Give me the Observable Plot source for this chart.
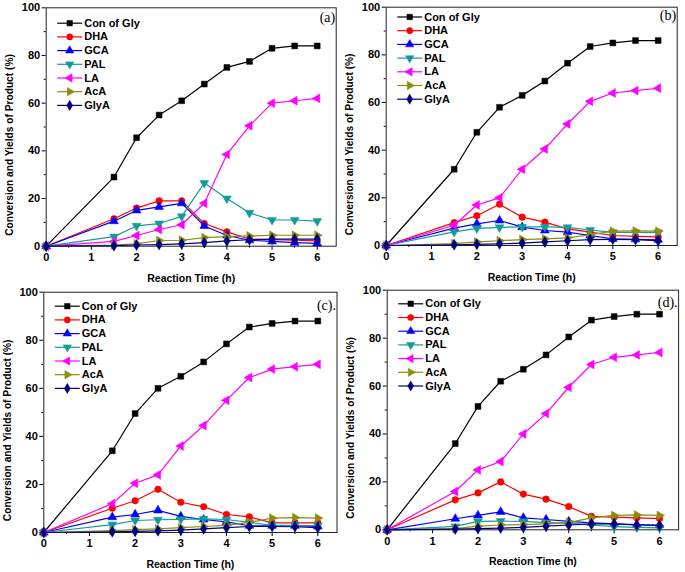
<!DOCTYPE html>
<html><head><meta charset="utf-8">
<script src="https://cdn.jsdelivr.net/npm/d3@7"></script>
<script src="https://cdn.jsdelivr.net/npm/@observablehq/plot@0.6"></script>
<style>
body{margin:0;background:#fff;}
#wrap{position:relative;width:685px;height:572px;overflow:hidden;background:#fff;}
.panel{position:absolute;}
</style></head><body><div id="wrap"></div>
<script>
// ---- data ----
const time = [0, 1.5, 2, 2.5, 3, 3.5, 4, 4.5, 5, 5.5, 6];
const seriesNames = ["Con of Gly", "DHA", "GCA", "PAL", "LA", "AcA", "GlyA"];
const seriesColors = ["#000000", "#ff0000", "#0000ff", "#159a9a", "#ff00ff", "#8c8c10", "#000080"];
const panelLabels = ["(a)", "(b)", "(c).", "(d)."];
const xTicks = [0, 1, 2, 3, 4, 5, 6];
const xMinor = [0.5, 1.5, 2.5, 3.5, 4.5, 5.5];
const yTicks = [0, 20, 40, 60, 80, 100];
const yMinor = [10, 30, 50, 70, 90];
const xLabel = "Reaction Time (h)";
const yLabel = "Conversion and Yields of Product (%)";

// panel (a)
const conA  = [0, 29, 45.5, 55, 61, 68, 75, 77.5, 83, 84, 84];
const dhaA  = [0, 11.5, 16, 19, 19, 9.5, 6, 3, 2.7, 2.5, 2.2];
const gcaA  = [0, 10.5, 15, 16.5, 18, 8.5, 4.5, 2.5, 2, 1.5, 1.2];
const palA  = [0, 4, 8.5, 9.5, 12.5, 26.5, 20, 14, 11, 11, 10.5];
const laA   = [0, 2, 4.5, 7, 9, 18, 38.5, 50.5, 60, 61, 62];
const acaA  = [0, 0.5, 1, 2.4, 2.5, 3.6, 4, 4.3, 4.6, 4.6, 4.6];
const glyaA = [0, 0.2, 0.5, 0.7, 1, 1.5, 2.2, 2.7, 3, 3, 3];
// panel (b)
const conB  = [0, 32, 47.5, 58, 63, 69, 76.5, 83.5, 85, 86, 86];
const dhaB  = [0, 9.6, 12.5, 17.3, 11.9, 9.8, 7, 5.6, 4.2, 3.8, 3.6];
const gcaB  = [0, 7.3, 9.1, 10.5, 7.7, 6.3, 5.6, 4.2, 2.8, 2.6, 2.4];
const palB  = [0, 5.7, 7.2, 7.6, 7.8, 7.8, 7.6, 6.5, 5.5, 5.5, 5.5];
const laB   = [0, 8.5, 17, 20, 32, 40.5, 51, 60.5, 64, 65, 66];
const acaB  = [0, 0.8, 1.5, 2, 2.5, 2.8, 3.2, 4.5, 6, 6.1, 6];
const glyaB = [0, 0.3, 0.5, 0.7, 1, 1.5, 2, 2.5, 2.6, 2.5, 2];
// panel (c)
const conC  = [0, 34, 49.5, 60, 65, 71, 78.5, 85.5, 87, 88, 88];
const dhaC  = [0, 10.1, 13.2, 18, 12.6, 10.7, 7.5, 6.5, 4, 4, 4];
const gcaC  = [0, 6.4, 7.5, 9.2, 6.7, 5.4, 4.4, 2.8, 2.8, 2.8, 2.5];
const palC  = [0, 3.3, 5, 5.3, 5.5, 5.7, 5.4, 4.2, 3, 3, 2.8];
const laC   = [0, 12, 20.5, 24, 36, 44.5, 55, 64.5, 68, 69, 70];
const acaC  = [0, 0.8, 1.2, 1.5, 2, 2.5, 3, 4.2, 6, 6.2, 6];
const glyaC = [0, 0.3, 0.5, 0.7, 1, 1.5, 2, 2.5, 2.5, 2.4, 2];
// panel (d)
const conD  = [0, 36, 51.5, 62, 67, 73, 80.5, 87.5, 89, 90, 90];
const dhaD  = [0, 12.5, 15.4, 20, 14.9, 12.8, 9.7, 5.6, 5.3, 5, 4.7];
const gcaD  = [0, 4.6, 6, 7.5, 5, 4.3, 3.5, 2.9, 2.5, 2.2, 2];
const palD  = [0, 1.4, 3.5, 3.6, 3.5, 3, 2.8, 2, 1.3, 1, 0.8];
const laD   = [0, 16, 25, 28.5, 40, 48.5, 59.5, 69, 72, 73, 74];
const acaD  = [0, 0.5, 1.5, 2, 2.2, 2.5, 3, 5, 6, 6.2, 6];
const glyaD = [0, 0.3, 0.5, 0.7, 1, 1.5, 2, 2.5, 2.5, 2, 1.8];

const panelSeries = [
  [conA, dhaA, gcaA, palA, laA, acaA, glyaA],
  [conB, dhaB, gcaB, palB, laB, acaB, glyaB],
  [conC, dhaC, gcaC, palC, laC, acaC, glyaC],
  [conD, dhaD, gcaD, palD, laD, acaD, glyaD]
];

// ---- marker shapes ----
const s3 = Math.sqrt(3);
function tri(dir) {
  return {draw(ctx, size) {
    const y = -Math.sqrt(size / (s3 * 3));
    let p;
    if (dir === "down") p = [[0, -2 * y], [-s3 * y, y], [s3 * y, y]];
    else if (dir === "left") p = [[2 * y, 0], [-y, -s3 * y], [-y, s3 * y]];
    else p = [[-2 * y, 0], [y, s3 * y], [y, -s3 * y]];
    ctx.moveTo(p[0][0], p[0][1]); ctx.lineTo(p[1][0], p[1][1]); ctx.lineTo(p[2][0], p[2][1]); ctx.closePath();
  }};
}
const legendLine = {draw(ctx) { ctx.moveTo(-12.5, 0); ctx.lineTo(12.5, 0); }};
const symbols = ["square", "circle", "triangle", tri("down"), tri("left"), tri("right"), "diamond"];

// ---- layout ----
const W = 342, H = 287;
const layout = [
  {left: 0,   top: 0,   ml: 45.7, mt: 7.3, mb: 41.3, mr: 6.3, legY: 15.4, labDy: 4},
  {left: 340, top: 0,   ml: 45.7, mt: 6.7, mb: 42,   mr: 5.3, legY: 9.8,  labDy: 3},
  {left: 0,   top: 285, ml: 43.3, mt: 6.7, mb: 40,   mr: 5.5, legY: 14,   labDy: 7.5},
  {left: 340, top: 285, ml: 46.7, mt: 4.7, mb: 42.7, mr: 3.9, legY: 13.6, labDy: 7}
];

const wrap = document.getElementById("wrap");
const FONT = "'Liberation Sans', Arial, sans-serif";

layout.forEach((L, pi) => {
  const rows = [];
  panelSeries[pi].forEach((vals, si) => {
    vals.forEach((v, k) => rows.push({t: time[k], v, s: si}));
  });
  const marks = [];
  // axes
  marks.push(Plot.axisX({ticks: xTicks, tickFormat: d => String(d), tickSize: 4, tickPadding: 3, label: null, fontSize: 11, fontWeight: "bold"}));
  marks.push(Plot.axisX({ticks: xMinor, tickSize: 2, text: null, label: null}));
  marks.push(Plot.axisY({ticks: yTicks, tickFormat: d => String(d), tickSize: 4, tickPadding: 2, label: null, fontSize: 11, fontWeight: "bold"}));
  marks.push(Plot.axisY({ticks: yMinor, tickSize: 2, text: null, label: null}));
  marks.push(Plot.frame({stroke: "#222", strokeWidth: 1}));
  // series
  seriesNames.forEach((name, si) => {
    const d = rows.filter(r => r.s === si);
    marks.push(Plot.line(d, {x: "t", y: "v", stroke: seriesColors[si], strokeWidth: 1.2}));
    marks.push(Plot.dot(d, {x: "t", y: "v", symbol: symbols[si], fill: seriesColors[si], stroke: seriesColors[si], strokeWidth: 0.5, r: 3.3}));
  });
  // legend
  seriesNames.forEach((name, si) => {
    const dy = L.legY + si * 13.7;
    marks.push(Plot.dot([name], {frameAnchor: "top-left", dx: 23.5, dy, symbol: legendLine, fill: "none", stroke: seriesColors[si], strokeWidth: 1.2, r: 3}));
    marks.push(Plot.dot([name], {frameAnchor: "top-left", dx: 23.5, dy, symbol: symbols[si], fill: seriesColors[si], stroke: seriesColors[si], strokeWidth: 0.5, r: 3.1}));
    marks.push(Plot.text([name], {frameAnchor: "top-left", dx: 38, dy, text: d => d, textAnchor: "start", lineAnchor: "middle", fontSize: 11, fontWeight: "bold", fill: "#000"}));
  });
  // panel label
  marks.push(Plot.text([panelLabels[pi]], {frameAnchor: "top-right", dx: -1, dy: L.labDy, text: d => d, textAnchor: "end", lineAnchor: "top", fontFamily: "'Liberation Serif', 'DejaVu Serif', serif", fontSize: 14, fontWeight: "normal", fill: "#000"}));
  // axis titles
  marks.push(Plot.text([xLabel], {frameAnchor: "bottom", dy: 32, text: d => d, textAnchor: "middle", lineAnchor: "middle", fontSize: 10.5, fontWeight: "bold", fill: "#000"}));
  marks.push(Plot.text([yLabel], {frameAnchor: "left", dx: -36, dy: 18, rotate: -90, text: d => d, textAnchor: "middle", lineAnchor: "middle", fontSize: 10.2, fontWeight: "bold", fill: "#000"}));

  const svg = Plot.plot({
    width: W, height: H,
    marginLeft: L.ml, marginTop: L.mt, marginBottom: L.mb, marginRight: L.mr,
    x: {domain: [0, 6.42]},
    y: {domain: [0, 100]},
    style: {fontFamily: FONT, fontSize: "11px", color: "#000", background: "transparent", overflow: "visible"},
    marks
  });
  const div = document.createElement("div");
  div.className = "panel";
  div.style.left = L.left + "px";
  div.style.top = L.top + "px";
  div.appendChild(svg);
  wrap.appendChild(div);
});
</script></body></html>
